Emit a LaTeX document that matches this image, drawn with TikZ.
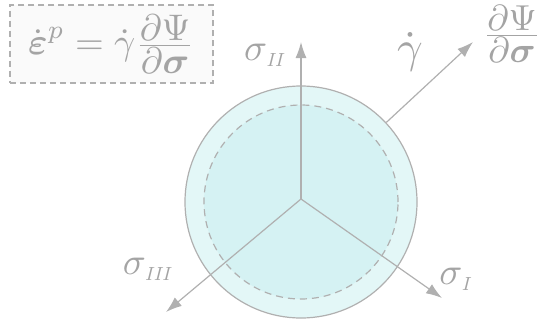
\documentclass[tikz,border=0pt]{standalone}
\usepackage{amsmath, amsfonts, amssymb}
\usepackage{graphicx}
\usepackage{tikz}
\usetikzlibrary{arrows.meta,positioning}
\definecolor{inkgray}{HTML}{A4A4A4}
\definecolor{linegray}{HTML}{B0B0B0}
\definecolor{outerfill}{HTML}{E3F7F7}
\definecolor{innerfill}{HTML}{D5F2F3}
\definecolor{boxfill}{HTML}{FAFAFA}
\newcommand{\subidx}[1]{_{\scriptscriptstyle\mathit{#1}}}
\newcommand{\tightfrac}[2]{\frac{\displaystyle #1}{\displaystyle #2}}
\tikzset{
  axisarrow/.style={-{Latex[length=16pt, width=11pt]}, draw=linegray, line width=1.2pt},
  axislabel/.style={text=inkgray, inner sep=0pt, scale=3.8, transform shape},
  eqbox/.style={rectangle, draw=linegray, dashed, dash pattern=on 6pt off 4pt,
                line width=1.2pt, fill=boxfill, inner sep=0pt},
}

\begin{document}
\begin{tikzpicture}[
    x=1pt,
    y=-1pt,
    yieldouter/.style={circle, draw=linegray, line width=1.2pt, fill=outerfill,
                       minimum size=232pt, inner sep=0pt},
    yieldinner/.style={circle, draw=linegray, dashed, dash pattern=on 7pt off 5pt,
                       line width=1.2pt, fill=innerfill, minimum size=194pt, inner sep=0pt},
  ]
    \useasboundingbox (0,0) rectangle (537,321);

    % Yield surface: outer circle and dashed inner circle
    \node[yieldouter] (yield) at (301,202) {};
    \node[yieldinner] (elastic) at (301,202) {};

    % Principal stress axes
    \coordinate (origin) at (301,199);
    \coordinate (tipII)  at (301,42);
    \coordinate (tipIII) at (166,312);
    \coordinate (tipI)   at (442,298);
    \draw[axisarrow] (origin) -- (tipII);
    \draw[axisarrow] (origin) -- (tipIII);
    \draw[axisarrow] (origin) -- (tipI);

    \node[axislabel] (sigII)  at (266,55)  {$\sigma\subidx{II}$};
    \node[axislabel] (sigIII) at (149,269) {$\sigma\subidx{III}$};
    \node[axislabel] (sigI)   at (457,279) {$\sigma\subidx{I}$};

    % Flow direction normal to the surface
    \coordinate (flowtip) at (473,42);
    \draw[axisarrow] (yield.43.6) -- (flowtip);
    \node[axislabel, scale=1.18] (gamdot) at (410,52) {$\dot{\gamma}$};
    \node[axislabel, scale=0.95] (normal) at (512,34) {$\tightfrac{\partial\Psi}{\partial\boldsymbol{\sigma}}$};

    % Flow rule
    \node[eqbox, minimum width=203pt, minimum height=78pt] (flowrule) at (111.5,44)
      {\textcolor{inkgray}{\scalebox{3.7}{%
       $\dot{\boldsymbol{\varepsilon}}^p = \dot{\gamma}\tightfrac{\partial\Psi}{\partial\boldsymbol{\sigma}}$}}};

  \end{tikzpicture}
\end{document}
